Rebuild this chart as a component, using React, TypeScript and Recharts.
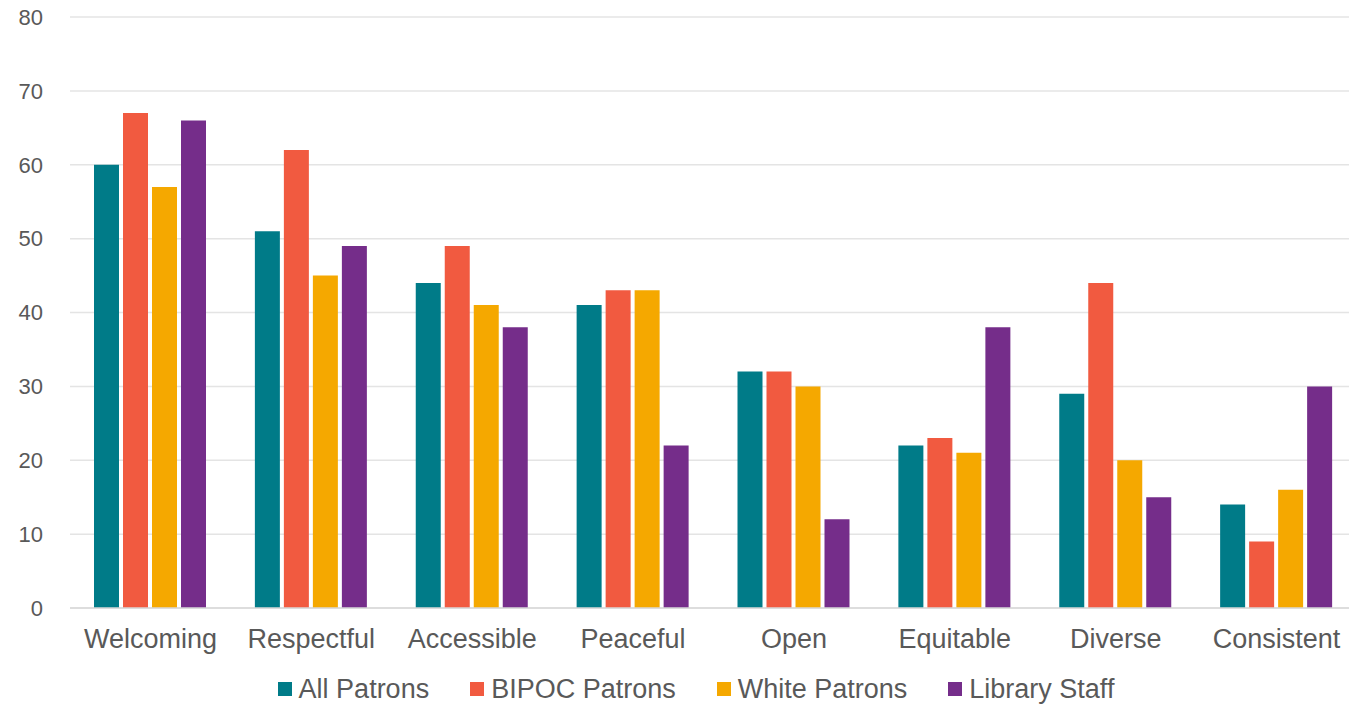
import React from "react"
import { BarChart, Bar, XAxis, YAxis, CartesianGrid, Legend } from "recharts"

const categories = ["Welcoming", "Respectful", "Accessible", "Peaceful", "Open", "Equitable", "Diverse", "Consistent"]
const allPatrons = [60, 51, 44, 41, 32, 22, 29, 14]
const bipocPatrons = [67, 62, 49, 43, 32, 23, 44, 9]
const whitePatrons = [57, 45, 41, 43, 30, 21, 20, 16]
const libraryStaff = [66, 49, 38, 22, 12, 38, 15, 30]
const yTicks = [0, 10, 20, 30, 40, 50, 60, 70, 80]

const series = [
  { key: "all", name: "All Patrons", color: "#007B88", values: allPatrons },
  { key: "bipoc", name: "BIPOC Patrons", color: "#F15A40", values: bipocPatrons },
  { key: "white", name: "White Patrons", color: "#F5A800", values: whitePatrons },
  { key: "staff", name: "Library Staff", color: "#752D8A", values: libraryStaff },
]

const data = categories.map((name, i) => {
  const row: any = { name }
  series.forEach((s) => (row[s.key] = s.values[i]))
  return row
})

const FONT = "'Liberation Sans', Arial, sans-serif"
const TEXT = "#595959"

// legend drawn in series order (recharts sorts by name otherwise)
const LegendContent = () => (
  <div
    style={{
      display: "flex",
      justifyContent: "center",
      alignItems: "center",
      height: 34,
      paddingLeft: 35,
      paddingTop: 4,
      fontFamily: FONT,
      fontSize: 27,
      color: TEXT,
      boxSizing: "border-box",
    }}
  >
    {series.map((s, i) => (
      <div
        key={s.key}
        style={{
          display: "flex",
          alignItems: "center",
          marginRight: i < series.length - 1 ? 41 : 0,
          whiteSpace: "nowrap",
        }}
      >
        <span style={{ width: 14, height: 14, background: s.color, marginRight: 7, display: "inline-block" }} />
        <span>{s.name}</span>
      </div>
    ))}
  </div>
)

export default function App() {
  return (
    <div
      style={{
        position: "absolute",
        left: 0,
        top: 0,
        width: 1349,
        height: 704,
        overflow: "hidden",
        background: "#fff",
      }}
    >
      <BarChart
        width={1357}
        height={704}
        data={data}
        margin={{ top: 17, right: 0, bottom: 0, left: 0 }}
        barCategoryGap={24}
        barGap={4}
      >
        <CartesianGrid vertical={false} stroke="#e4e4e4" strokeWidth={1.5} />
        <XAxis
          dataKey="name"
          height={62}
          tickSize={0}
          tickMargin={21}
          tickLine={false}
          axisLine={{ stroke: "#d9d9d9", strokeWidth: 1.5 }}
          tick={{ fill: TEXT, fontSize: 27, fontFamily: FONT }}
          interval={0}
        />
        <YAxis
          width={70}
          domain={[0, 80]}
          ticks={yTicks}
          tickSize={0}
          tickMargin={27}
          tickLine={false}
          axisLine={false}
          tick={{ fill: TEXT, fontSize: 22, fontFamily: FONT }}
        />
        <Legend verticalAlign="bottom" content={<LegendContent />} />
        {series.map((s) => (
          <Bar key={s.key} dataKey={s.key} name={s.name} fill={s.color} isAnimationActive={false} />
        ))}
      </BarChart>
    </div>
  )
}
